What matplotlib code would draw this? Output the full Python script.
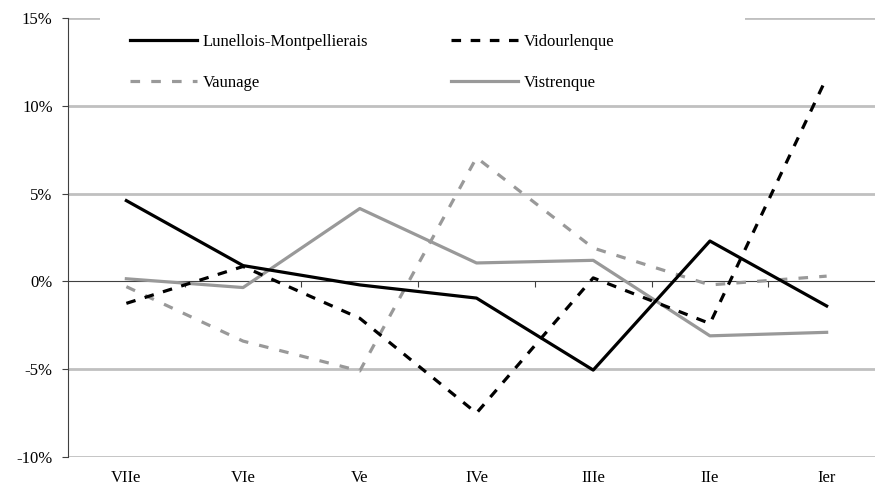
import matplotlib
matplotlib.use("Agg")
import matplotlib.pyplot as plt
from matplotlib.patches import Rectangle

# categories (centuries BC) and series values in %
siecles = ["VIIe", "VIe", "Ve", "IVe", "IIIe", "IIe", "Ier"]
lunellois = [4.6, 0.9, -0.2, -0.95, -5.05, 2.3, -1.4]
vidourlenque = [-1.25, 0.85, -2.1, -7.5, 0.2, -2.4, 11.6]
vaunage = [-0.3, -3.4, -5.1, 7.05, 1.9, -0.2, 0.3]
vistrenque = [0.15, -0.35, 4.15, 1.05, 1.2, -3.1, -2.9]
yticks = [-10, -5, 0, 5, 10, 15]

plt.rcParams['font.family'] = ['Liberation Serif', 'DejaVu Serif']
plt.rcParams['font.size'] = 12

fig = plt.figure(figsize=(8.75, 4.93), dpi=100)
ax = fig.add_axes([68 / 875, 36 / 493, 817 / 875, 439 / 493])

grey = "#999999"
x = list(range(len(siecles)))
l1, = ax.plot(x, lunellois, color="black", lw=2.3, label="Lunellois-Montpellierais", zorder=4)
l2, = ax.plot(x, vidourlenque, color="black", lw=2.3, ls=(0, (3, 3)), label="Vidourlenque", zorder=4)
l3, = ax.plot(x, vaunage, color=grey, lw=2.3, ls=(0, (3, 3.5)), label="Vaunage", zorder=3)
l4, = ax.plot(x, vistrenque, color=grey, lw=2.3, label="Vistrenque", zorder=3)

ax.set_xlim(-0.5, len(siecles) - 0.5)
ax.set_ylim(-10, 15)

# gridlines (except at 0 where the x axis sits)
for v in yticks:
    if v != 0:
        ax.axhline(v, color="#c0c0c0", lw=2.0, zorder=1)

ax.set_yticks(yticks)
ax.set_yticklabels([f"{v}%" for v in yticks])
ax.tick_params(axis="y", direction="out", length=4, width=0.8, color="#404040", pad=7)

for s in ["top", "right"]:
    ax.spines[s].set_visible(False)
ax.spines["left"].set_color("#404040")
ax.spines["left"].set_linewidth(0.8)

# x axis crossing at 0 with tick marks between categories
ax.spines["bottom"].set_position(("data", 0))
ax.spines["bottom"].set_color("#404040")
ax.spines["bottom"].set_linewidth(0.8)
ax.spines["bottom"].set_zorder(2)
ax.set_xticks([i + 0.5 for i in range(len(siecles) - 1)])
ax.set_xticklabels([])
ax.tick_params(axis="x", direction="out", length=4, width=0.8, color="#404040")

sec = ax.secondary_xaxis(0)
sec.set_xticks(x)
sec.set_xticklabels(siecles)
sec.tick_params(length=0, pad=9)
sec.spines["bottom"].set_visible(False)

# white area behind the legend hiding the top gridline
ax.add_patch(Rectangle((32 / 817, 10.2), (745 - 100) / 817, 5.6,
                       transform=ax.get_yaxis_transform(), facecolor="white",
                       edgecolor="none", zorder=2, clip_on=False))

ax.legend([l1, l3, l2, l4], ["Lunellois-Montpellierais", "Vaunage", "Vidourlenque", "Vistrenque"],
          ncol=2, loc="upper left", bbox_to_anchor=(62 / 817, 0.963), frameon=False,
          handlelength=4.0, handletextpad=0.35, columnspacing=5.0, labelspacing=1.5,
          borderaxespad=0, borderpad=0)

fig.savefig("out.png", dpi=100)
